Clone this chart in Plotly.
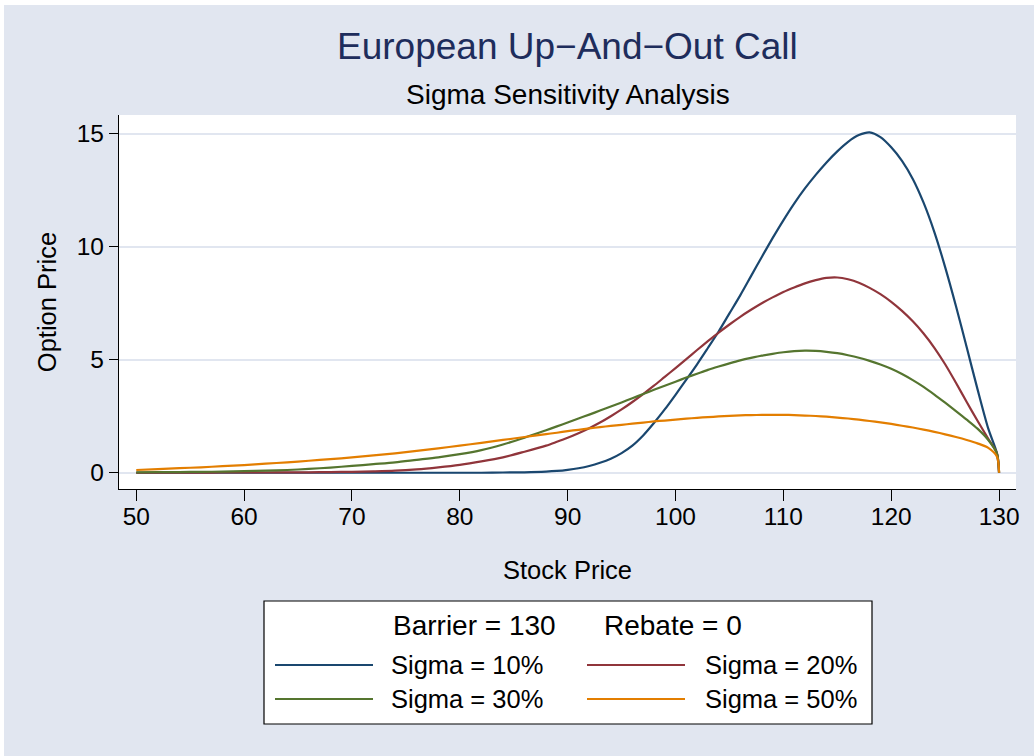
import plotly.graph_objects as go

# ---- data -------------------------------------------------------------
STOCK_PRICE = [50, 52, 54, 56, 58, 60, 62, 64, 66, 68, 70, 72, 74, 76, 78,
               80, 82, 84, 86, 88,
               89, 90, 91, 92, 93, 94, 95, 96, 97, 98, 99, 100, 101, 102,
               103, 104, 105, 106, 107, 108, 109, 110, 111, 112, 113, 114,
               115, 116, 117, 118, 119, 120, 121, 122, 123, 124, 125, 126,
               127, 128, 129, 129.8, 130]

PRICE_SIGMA_10 = [0, 0, 0, 0, 0, 0, 0, 0, 0, 0, 0, 0, 0, 0, 0,
                  0, 0, 0.01, 0.02, 0.05,
                  0.08, 0.13, 0.2, 0.3, 0.44, 0.62, 0.87, 1.2, 1.65, 2.2,
                  2.8, 3.45, 4.12, 4.8, 5.52, 6.25, 7.05, 7.85, 8.7, 9.55,
                  10.38, 11.17, 11.91, 12.58, 13.18, 13.73, 14.22, 14.64, 14.94,
                  15.06, 14.85, 14.4, 13.8, 13.0, 11.95, 10.65, 9.1, 7.38,
                  5.55, 3.7, 1.95, 0.86, 0]

PRICE_SIGMA_20 = [0, 0, 0, 0, 0.01, 0.01, 0.01, 0.02, 0.02, 0.03, 0.04, 0.06,
                  0.09, 0.15, 0.24, 0.35, 0.5, 0.68, 0.93, 1.2,
                  1.37, 1.55, 1.75, 1.97, 2.22, 2.5, 2.8, 3.13, 3.48, 3.85,
                  4.24, 4.63, 5.03, 5.43, 5.82, 6.2, 6.56, 6.9, 7.21, 7.5,
                  7.76, 8.0, 8.2, 8.38, 8.52, 8.62, 8.64, 8.56, 8.41, 8.18,
                  7.9, 7.56, 7.16, 6.7, 6.16, 5.53, 4.8, 3.98, 3.13, 2.3,
                  1.5, 0.86, 0]

PRICE_SIGMA_30 = [0.02, 0.03, 0.03, 0.04, 0.05, 0.07, 0.09, 0.12, 0.17, 0.23,
                  0.3, 0.38, 0.46, 0.57, 0.68, 0.82, 1.0, 1.25, 1.55, 1.88,
                  2.05, 2.22, 2.4, 2.57, 2.75, 2.93, 3.11, 3.3, 3.48, 3.67,
                  3.85, 4.03, 4.21, 4.38, 4.55, 4.7, 4.84, 4.97, 5.08, 5.18,
                  5.26, 5.33, 5.38, 5.4, 5.39, 5.35, 5.29, 5.2, 5.09, 4.95,
                  4.79, 4.6, 4.37, 4.1, 3.8, 3.46, 3.1, 2.73, 2.35, 1.95,
                  1.45, 0.86, 0]

PRICE_SIGMA_50 = [0.12, 0.16, 0.2, 0.24, 0.29, 0.34, 0.4, 0.46, 0.53, 0.6,
                  0.68, 0.77, 0.86, 0.97, 1.08, 1.2, 1.32, 1.45, 1.58, 1.71,
                  1.77, 1.84, 1.9, 1.96, 2.02, 2.07, 2.12, 2.17, 2.22, 2.27,
                  2.31, 2.35, 2.39, 2.43, 2.46, 2.49, 2.52, 2.54, 2.55, 2.56,
                  2.56, 2.56, 2.55, 2.53, 2.51, 2.48, 2.44, 2.4, 2.35, 2.29,
                  2.23, 2.16, 2.08, 2.0, 1.91, 1.81, 1.7, 1.58, 1.45, 1.3,
                  1.1, 0.72, 0]

SERIES_NAMES = ["Sigma = 10%", "Sigma = 20%", "Sigma = 30%", "Sigma = 50%"]
SERIES_COLORS = ["#1A476F", "#90353B", "#55752F", "#E37E00"]
SERIES_VALUES = [PRICE_SIGMA_10, PRICE_SIGMA_20, PRICE_SIGMA_30, PRICE_SIGMA_50]

X_TICKS = [50, 60, 70, 80, 90, 100, 110, 120, 130]
Y_TICKS = [0, 5, 10, 15]

BARRIER_TEXT = "Barrier = 130"
REBATE_TEXT = "Rebate = 0"

# ---- page geometry (pixels) --------------------------------------------
W, H = 1034, 756
PL, PR, PT, PB = 119, 1016, 115, 489
BG = "#E1E6F0"
FONT = "Liberation Sans, Arial, Helvetica, sans-serif"


def px(x):
    return (x - PL) / (PR - PL)


def py(y):
    return (PB - y) / (PB - PT)


fig = go.Figure()
for name, color, vals in zip(SERIES_NAMES, SERIES_COLORS, SERIES_VALUES):
    fig.add_trace(go.Scatter(
        x=STOCK_PRICE, y=vals, name=name, mode="lines",
        line=dict(color=color, width=2.2, shape="spline", smoothing=0.8),
        showlegend=False, hoverinfo="x+y+name",
    ))

shapes = [
    # graph region and white plot region
    dict(type="rect", xref="paper", yref="paper", layer="below",
         x0=px(4), x1=px(W + 10), y0=py(H + 10), y1=py(5),
         fillcolor=BG, line=dict(width=0)),
    dict(type="rect", xref="paper", yref="paper", layer="below",
         x0=0, x1=1, y0=0, y1=1, fillcolor="white", line=dict(width=0)),
    # legend frame
    dict(type="rect", xref="paper", yref="paper", layer="above",
         x0=px(264), x1=px(872), y0=py(724), y1=py(601),
         fillcolor="white", line=dict(color="black", width=1.2)),
]
annotations = [
    dict(text="European Up\u2212And\u2212Out Call", x=px(567.5), y=py(47),
         font=dict(size=37, color="#1E2D5C")),
    dict(text="Sigma Sensitivity Analysis", x=px(567.5), y=py(94),
         font=dict(size=28, color="black")),
    dict(text=BARRIER_TEXT, x=px(474), y=py(625),
         font=dict(size=28, color="black")),
    dict(text=REBATE_TEXT, x=px(673), y=py(625),
         font=dict(size=28, color="black")),
]

# legend rows: two columns, two rows
legend_cols = [(275, 373, 389), (587, 685, 703)]
legend_rows = [665, 699]
for i, (name, color) in enumerate(zip(SERIES_NAMES, SERIES_COLORS)):
    r, c = divmod(i, 2)
    x0, x1, tx = legend_cols[c]
    yy = legend_rows[r]
    shapes.append(dict(type="line", xref="paper", yref="paper", layer="above",
                       x0=px(x0), x1=px(x1), y0=py(yy), y1=py(yy),
                       line=dict(color=color, width=2.2)))
    annotations.append(dict(text=name, x=px(tx), y=py(yy), xanchor="left",
                            font=dict(size=25.5, color="black")))

for a in annotations:
    a.update(xref="paper", yref="paper", showarrow=False)
    a.setdefault("xanchor", "center")
    a.setdefault("yanchor", "middle")

fig.update_layout(
    width=W, height=H,
    margin=dict(l=PL, r=W - PR, t=PT, b=H - PB, pad=0),
    paper_bgcolor="white", plot_bgcolor="white",
    font=dict(family=FONT, color="black"),
    shapes=shapes, annotations=annotations,
    showlegend=False,
)
fig.update_xaxes(
    range=[48.4, 131.57], tickmode="array", tickvals=X_TICKS,
    ticks="outside", ticklen=11, tickwidth=1.3, tickcolor="black",
    showline=True, linecolor="black", linewidth=1.3,
    showgrid=False, zeroline=False, ticklabelstandoff=-6,
    tickfont=dict(size=24.5, color="black"),
    title=dict(text="Stock Price", font=dict(size=25.5, color="black"), standoff=32),
)
fig.update_yaxes(
    range=[-0.72, 15.83], tickmode="array", tickvals=Y_TICKS,
    ticks="outside", ticklen=9, tickwidth=1.3, tickcolor="black",
    showline=True, linecolor="black", linewidth=1.3,
    showgrid=True, gridcolor=BG, gridwidth=1.8, zeroline=False,
    tickfont=dict(size=24.5, color="black"),
    title=dict(text="Option Price", font=dict(size=25.5, color="black"), standoff=12),
)

fig.write_html("out.html")
